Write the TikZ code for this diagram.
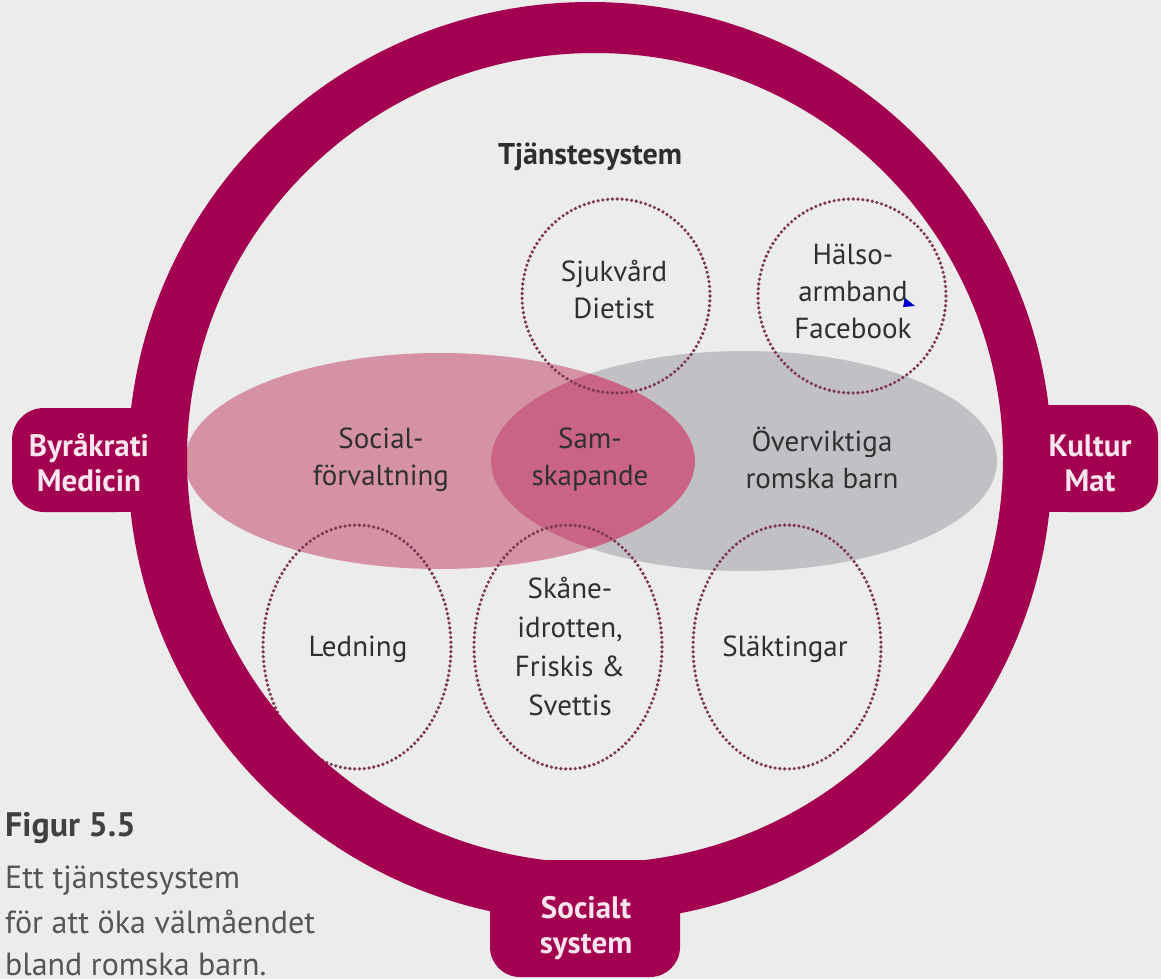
\documentclass[tikz,border=0pt]{standalone}
\usepackage{fontspec}
\setmainfont{PT Sans}
\usetikzlibrary{shapes.geometric}
\definecolor{bgc}{RGB}{236,236,236}
\definecolor{ringc}{RGB}{163,0,80}
\definecolor{tabtxt}{RGB}{250,228,238}
\definecolor{pinkc}{RGB}{214,146,165}
\definecolor{grayc}{RGB}{193,193,197}
\definecolor{overc}{RGB}{202,100,132}
\definecolor{dotc}{RGB}{125,55,80}
\definecolor{txtc}{RGB}{48,48,48}
\definecolor{captc}{RGB}{85,85,85}
\begin{document}
\begin{tikzpicture}[x=1pt,y=-1pt,
  lbl/.style={align=center, text=txtc, font=\fontsize{29}{37}\selectfont, inner sep=0pt},
  tablbl/.style={align=center, text=tabtxt, font=\bfseries\fontsize{31}{35}\selectfont, inner sep=0pt},
  dotell/.style={ellipse, draw=dotc, line width=3.6pt, line cap=round, dash pattern=on 0pt off 4.8pt, inner sep=0pt},
  capt/.style={anchor=base west, text=captc, font=\fontsize{32}{34}\selectfont, inner sep=0pt}]
\useasboundingbox (0,0) rectangle (1161,979);
\fill[bgc] (0,0) rectangle (1161,979);
% central overlapping ellipses
\fill[pinkc] (440,461) ellipse [x radius=255, y radius=108];
\fill[grayc] (744,461) ellipse [x radius=253, y radius=110];
\begin{scope}
  \clip (440,461) ellipse [x radius=255, y radius=108];
  \fill[overc] (744,461) ellipse [x radius=253, y radius=110];
\end{scope}
% dotted ellipses
\node[dotell, minimum width=188pt, minimum height=194pt] (sjukE) at (616,296) {};
\node[dotell, minimum width=188pt, minimum height=194pt] (halsoE) at (852,296) {};
\node[dotell, minimum width=188pt, minimum height=244pt] (ledE) at (357,647) {};
\node[dotell, minimum width=188pt, minimum height=244pt] (skaneE) at (568,647) {};
\node[dotell, minimum width=188pt, minimum height=244pt] (slaktE) at (787,647) {};
% ring and tabs
\fill[ringc, rounded corners=32pt] (12,408) rectangle (150,512);
\fill[ringc] (90,408) rectangle (160,512);
\fill[ringc, rounded corners=32pt] (1035,405) rectangle (1158,512);
\fill[ringc] (1030,405) rectangle (1100,512);
\fill[ringc, rounded corners=30pt] (490,860) rectangle (680,977);
\fill[ringc] (490,870) rectangle (680,920);
\fill[ringc, even odd rule] (590,462) ellipse [x radius=462, y radius=460]
  (595,458) ellipse [x radius=408, y radius=405];
% texts
\node[lbl, font=\bfseries\fontsize{30}{37}\selectfont, text=black!82] (tj) at (590,157) {Tjänstesystem};
\node[lbl] (sjuk) at (614,290) {Sjukvård\\Dietist};
\node[lbl] (halso) at (853,291) {Hälso-\\armband\\Facebook};
\fill[blue!80!black] (905,298) -- (915,306) -- (903,307) -- cycle;
\node[lbl] (soc) at (381,460) {Social-\\förvaltning};
\node[lbl] (sam) at (590,460) {Sam-\\skapande};
\node[lbl] (over) at (822,458) {Överviktiga\\romska barn};
\node[lbl] (led) at (358,649) {Ledning};
\node[lbl, font=\fontsize{29}{39}\selectfont] (skane) at (570,647) {Skåne-\\idrotten,\\Friskis \&\\Svettis};
\node[lbl] (slakt) at (785,649) {Släktingar};
\node[tablbl] (byr) at (89,463) {Byråkrati\\Medicin};
\node[tablbl] (kult) at (1090,463) {Kultur\\Mat};
\node[tablbl] (socsys) at (586,928) {Socialt\\system};
% caption
\node[capt, font=\bfseries\fontsize{34}{34}\selectfont, text=black!75] (c1) at (5,836) {Figur 5.5};
\node[capt] (c2) at (5,888) {Ett tjänstesystem};
\node[capt] (c3) at (5,933) {för att öka välmåendet};
\node[capt] (c4) at (5,975) {bland romska barn.};
\end{tikzpicture}
\end{document}
